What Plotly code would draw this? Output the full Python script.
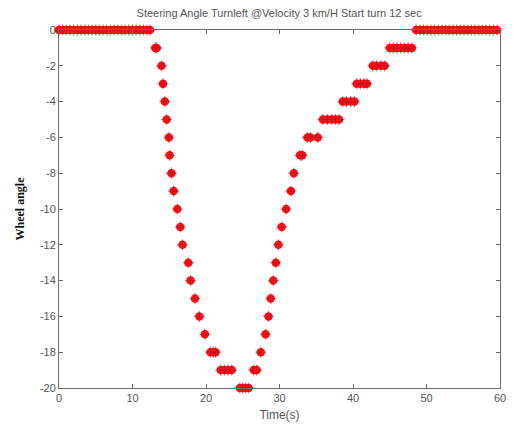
import plotly.graph_objects as go

# Time (s) and wheel angle samples
time_s = [
    0.0, 0.5, 1.0, 1.5, 2.0, 2.5, 3.0, 3.5, 4.0, 4.5, 5.0, 5.5, 6.0, 6.5, 7.0, 7.5,
    8.0, 8.5, 9.0, 9.5, 10.0, 10.5, 11.0, 11.5, 12.0, 12.4,
    13.1, 13.3, 13.95, 14.15, 14.4, 14.65, 14.95, 15.05, 15.3, 15.6, 16.1, 16.5,
    16.8, 17.6, 17.9, 18.5, 19.1, 19.85,
    20.6, 21.0, 21.3,
    22.0, 22.5, 23.0, 23.5,
    24.6, 25.0, 25.4, 25.8,
    26.5, 26.9,
    27.45, 28.1, 28.5, 28.8, 29.15, 29.5, 29.85, 30.3, 30.9, 31.55, 31.95,
    32.8, 33.1,
    33.8, 34.2, 35.2,
    35.9, 36.5, 37.1, 37.6, 38.1,
    38.6, 39.1, 39.7, 40.2,
    40.5, 41.0, 41.5, 41.9,
    42.7, 43.2, 43.8, 44.3,
    45.0, 45.5, 46.0, 46.5, 47.0, 47.5, 48.0,
    48.6, 49.1, 49.6, 50.1, 50.6, 51.1, 51.6, 52.1, 52.6, 53.1, 53.6, 54.1, 54.6,
    55.1, 55.6, 56.1, 56.6, 57.1, 57.6, 58.1, 58.6, 59.1, 59.6,
]
wheel_angle = [
    0, 0, 0, 0, 0, 0, 0, 0, 0, 0, 0, 0, 0, 0, 0, 0,
    0, 0, 0, 0, 0, 0, 0, 0, 0, 0,
    -1, -1, -2, -3, -4, -5, -6, -7, -8, -9, -10, -11,
    -12, -13, -14, -15, -16, -17,
    -18, -18, -18,
    -19, -19, -19, -19,
    -20, -20, -20, -20,
    -19, -19,
    -18, -17, -16, -15, -14, -13, -12, -11, -10, -9, -8,
    -7, -7,
    -6, -6, -6,
    -5, -5, -5, -5, -5,
    -4, -4, -4, -4,
    -3, -3, -3, -3,
    -2, -2, -2, -2,
    -1, -1, -1, -1, -1, -1, -1,
    0, 0, 0, 0, 0, 0, 0, 0, 0, 0, 0, 0, 0,
    0, 0, 0, 0, 0, 0, 0, 0, 0, 0,
]

x_ticks = [0, 10, 20, 30, 40, 50, 60]
y_ticks = [0, -2, -4, -6, -8, -10, -12, -14, -16, -18, -20]
y_tick_labels = ["0", "-2", "-4", "-6", "-8", "-10", "-12", "-14", "-16", "-18", "-20"]

fig = go.Figure()
fig.add_trace(go.Scatter(
    x=time_s, y=wheel_angle, mode="markers",
    marker=dict(symbol="circle", size=8.5, color="#ff1010", line=dict(width=0)),
    cliponaxis=False, showlegend=False,
))
fig.add_trace(go.Scatter(
    x=time_s, y=wheel_angle, mode="markers",
    marker=dict(symbol="cross-thin", size=8, color="#a01030",
                line=dict(width=1.2, color="#a01030")),
    opacity=0.5, cliponaxis=False, showlegend=False,
))

axis_common = dict(
    showline=True, linecolor="#6a6a6a", linewidth=1, mirror="ticks",
    ticks="inside", ticklen=4, tickcolor="#6a6a6a", showgrid=False, zeroline=False,
    automargin=False,
    tickfont=dict(family="Arial, Liberation Sans", size=11, color="#555555"),
)

fig.update_layout(
    width=514, height=428,
    margin=dict(l=59, r=14, t=30, b=40),
    paper_bgcolor="white", plot_bgcolor="white",
    title=dict(text="Steering Angle Turnleft @Velocity 3 km/H Start turn 12 sec",
               x=0.543, xanchor="center", y=0.97, yanchor="middle",
               font=dict(family="Arial, Liberation Sans", size=11, color="#555555")),
    xaxis=dict(range=[0, 60], tickvals=x_ticks, **axis_common,
               title=dict(text="Time(s)", standoff=7,
                          font=dict(family="Arial, Liberation Sans", size=12, color="#555555"))),
    yaxis=dict(range=[-20, 0], tickvals=y_ticks, ticktext=y_tick_labels, **axis_common,
               title=dict(text="<b>Wheel angle</b>", standoff=12,
                          font=dict(family="Liberation Serif, Times New Roman", size=12, color="#111111"))),
)

fig.write_html("out.html")
